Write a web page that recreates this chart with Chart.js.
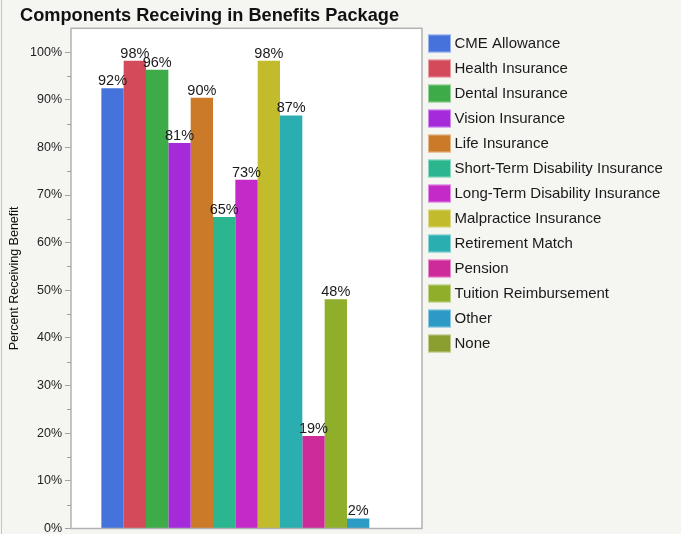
<!DOCTYPE html>
<html>
<head>
<meta charset="utf-8">
<title>Components Receiving in Benefits Package</title>
<script src="https://cdn.jsdelivr.net/npm/chart.js@4.4.1/dist/chart.umd.min.js"></script>
<style>
  html, body { margin: 0; padding: 0; background: #f5f5f1; }
  #chart { display: block; }
</style>
</head>
<body>
<canvas id="chart" width="681" height="534"></canvas>
<script>
// Data
const chartTitle = 'Components Receiving in Benefits Package';
const categories = ['Benefits'];
const seriesNames = [
    'CME Allowance', 'Health Insurance', 'Dental Insurance', 'Vision Insurance',
    'Life Insurance', 'Short-Term Disability Insurance', 'Long-Term Disability Insurance',
    'Malpractice Insurance', 'Retirement Match', 'Pension', 'Tuition Reimbursement',
    'Other', 'None'
];
const seriesValues = [92.4, 98.2, 96.3, 80.9, 90.4, 65.4, 73.2, 98.2, 86.7, 19.4, 48.1, 2.1, 0];
const seriesColors = [
    '#4573db', '#d34a5a', '#3dab47', '#a52bda', '#cb7a29', '#2bb690', '#c42ac7',
    '#c2bb2b', '#2aaeb0', '#ce2b9a', '#8faf2b', '#2b9bc5', '#8a9f30'
];
const yTickValues = [0, 10, 20, 30, 40, 50, 60, 70, 80, 90, 100];
const yMinorTicks = [5, 15, 25, 35, 45, 55, 65, 75, 85, 95];

const FONT = '"Liberation Sans", Arial, Helvetica, sans-serif';

// white plot area with grey frame, title, minor ticks
const plotFrame = {
    id: 'plotFrame',
    beforeDraw(chart) {
        const { ctx, chartArea: a } = chart;
        ctx.save();
        ctx.fillStyle = '#ffffff';
        ctx.fillRect(a.left, a.top, a.right - a.left, a.bottom - a.top);
        ctx.restore();
    },
    afterDraw(chart) {
        const { ctx, chartArea: a } = chart;
        ctx.save();
        ctx.strokeStyle = '#b2b2b2';
        ctx.lineWidth = 1.5;
        ctx.strokeRect(a.left, a.top, a.right - a.left, a.bottom - a.top);

        const y = chart.scales.y;
        ctx.strokeStyle = '#a0a0a0';
        ctx.lineWidth = 1;
        yMinorTicks.forEach(v => {
            const py = Math.round(y.getPixelForValue(v)) + 0.5;
            ctx.beginPath();
            ctx.moveTo(a.left - 4, py);
            ctx.lineTo(a.left, py);
            ctx.stroke();
        });

        ctx.strokeStyle = '#c4c4c4';
        ctx.beginPath();
        ctx.moveTo(1.5, 0);
        ctx.lineTo(1.5, chart.height);
        ctx.stroke();

        ctx.font = 'bold 18.2px ' + FONT;
        ctx.fillStyle = '#111111';
        ctx.textAlign = 'left';
        ctx.textBaseline = 'alphabetic';
        ctx.fillText(chartTitle, 20, 21);
        ctx.restore();
    }
};

// percentage labels above bars
const barLabels = {
    id: 'barLabels',
    afterDatasetsDraw(chart) {
        const { ctx } = chart;
        ctx.save();
        ctx.font = '14.5px ' + FONT;
        ctx.fillStyle = '#1a1a1a';
        ctx.textAlign = 'center';
        ctx.textBaseline = 'alphabetic';
        chart.data.datasets.forEach((ds, i) => {
            const meta = chart.getDatasetMeta(i);
            meta.data.forEach((bar, j) => {
                const v = ds.data[j];
                if (!v) return;
                ctx.fillText(Math.round(v) + '%', bar.x, bar.y - 3);
            });
        });
        ctx.restore();
    }
};

// legend column on the right
const sideLegend = {
    id: 'sideLegend',
    afterDraw(chart) {
        const { ctx } = chart;
        const x0 = 428, y0 = 43.5, step = 25;
        ctx.save();
        ctx.font = '15px ' + FONT;
        ctx.textBaseline = 'middle';
        chart.data.datasets.forEach((ds, i) => {
            const cy = y0 + i * step;
            ctx.fillStyle = ds.backgroundColor;
            ctx.fillRect(x0, cy - 9, 23, 18);
            ctx.strokeStyle = 'rgba(255,255,255,0.45)';
            ctx.lineWidth = 1;
            ctx.strokeRect(x0 + 0.5, cy - 8.5, 22, 17);
            ctx.fillStyle = '#1a1a1a';
            ctx.fillText(ds.label, 454.5, cy + 0.5);
        });
        ctx.restore();
    }
};

new Chart(document.getElementById('chart'), {
    type: 'bar',
    data: {
        labels: categories,
        datasets: seriesNames.map((name, i) => ({
            label: name,
            data: [seriesValues[i]],
            backgroundColor: seriesColors[i],
            borderWidth: 0,
            barPercentage: 1,
            categoryPercentage: 0.827
        }))
    },
    options: {
        responsive: false,
        animation: false,
        layout: { padding: { left: 0, right: 259, top: 28.3, bottom: 5.5 } },
        plugins: {
            legend: { display: false },
            tooltip: { enabled: false },
            title: { display: false }
        },
        scales: {
            x: { display: false },
            y: {
                min: 0,
                max: 105,
                afterBuildTicks: (axis) => {
                    axis.ticks = yTickValues.map(v => ({ value: v }));
                },
                afterFit: (axis) => {
                    axis.width = 71;
                    axis.paddingTop = 0;
                    axis.paddingBottom = 0;
                },
                ticks: {
                    callback: (v) => v + '%',
                    color: '#222222',
                    padding: 3,
                    font: { family: FONT, size: 12.5 }
                },
                grid: {
                    drawOnChartArea: false,
                    tickLength: 6,
                    tickColor: '#a0a0a0'
                },
                border: { display: false },
                title: {
                    display: true,
                    text: 'Percent Receiving Benefit',
                    color: '#111111',
                    font: { family: FONT, size: 12.5 },
                    padding: { top: 7, bottom: 0 }
                }
            }
        }
    },
    plugins: [plotFrame, barLabels, sideLegend]
});
</script>
</body>
</html>
